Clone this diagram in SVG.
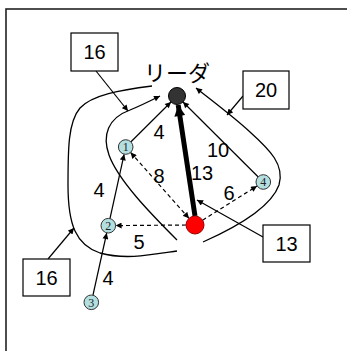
<svg xmlns="http://www.w3.org/2000/svg" width="347" height="351" viewBox="0 0 347 351">
  <defs>
    <marker id="arr" viewBox="0 0 10 10" refX="10" refY="5" markerWidth="7" markerHeight="6" markerUnits="userSpaceOnUse" orient="auto">
      <path d="M0,0 L10,5 L0,10 z" fill="#000"/>
    </marker>
    <marker id="arrStart" viewBox="0 0 10 10" refX="0" refY="5" markerWidth="7" markerHeight="6" markerUnits="userSpaceOnUse" orient="auto">
      <path d="M10,0 L0,5 L10,10 z" fill="#000"/>
    </marker>
    <marker id="arrBig" viewBox="0 0 10 10" refX="10" refY="5" markerWidth="13" markerHeight="11" markerUnits="userSpaceOnUse" orient="auto">
      <path d="M0,0 L10,5 L0,10 z" fill="#000"/>
    </marker>
  </defs>
  <style>
    .frame { fill: none; stroke: #222; stroke-width: 1.6; }
    .edge { fill: none; stroke: #000; stroke-width: 1.2; }
    .dash { fill: none; stroke: #000; stroke-width: 1.2; stroke-dasharray: 4 3; }
    .thick { fill: none; stroke: #000; stroke-width: 5; }
    .curve { fill: none; stroke: #000; stroke-width: 1.3; }
    .box rect { fill: #fff; stroke: #000; stroke-width: 1.2; }
    .lbl { font-family: "Liberation Sans", Arial, sans-serif; font-size: 20px; fill: #000; text-anchor: middle; }
    .member circle { fill: #b4dfe0; stroke: #333; stroke-width: 1; }
    .member text { font-family: "Liberation Serif", serif; font-size: 12px; fill: #222; text-anchor: middle; }
    .title { font-family: "Liberation Sans", "Noto Sans CJK JP", sans-serif; font-size: 22px; fill: #000; text-anchor: middle; }
  </style>

  <rect class="frame" x="6" y="9" width="400" height="400"/>

  <g id="connectors">
    <!-- loops around the groups -->
    <path class="curve" d="M152,86 C120,90 92,95 80,108 C68,122 68,150 68,185 C68,225 76,245 100,253 C125,260 150,255 177,251"/>
    <path class="curve" marker-end="url(#arr)" d="M177,240 C150,213 118,180 109,155 C102,135 108,118 130,110 C140,106 150,101 160,96"/>
    <path class="curve" marker-end="url(#arr)" d="M203,242 C230,230 270,210 279,185 C285,165 270,150 250,132 C235,118 215,103 196,88"/>
    <!-- solid edges -->
    <line class="edge" x1="131" y1="141.7" x2="171" y2="102" marker-end="url(#arr)"/>
    <line class="edge" x1="258" y1="176.7" x2="183" y2="102" marker-end="url(#arr)"/>
    <line class="edge" x1="93" y1="295" x2="106.7" y2="233" marker-end="url(#arr)"/>
    <line class="edge" x1="110" y1="218.5" x2="124.1" y2="154.3" marker-end="url(#arr)"/>
    <line class="thick" x1="195" y1="216" x2="178.2" y2="105" marker-end="url(#arrBig)"/>
    <!-- dashed edges -->
    <line class="dash" x1="189" y1="218.3" x2="130.6" y2="152.5" marker-start="url(#arrStart)" marker-end="url(#arr)"/>
    <line class="dash" x1="186" y1="225" x2="115.6" y2="225.6" marker-end="url(#arr)"/>
    <line class="dash" x1="202.6" y1="220.2" x2="257" y2="186" marker-end="url(#arr)"/>
    <!-- callout pointers -->
    <line class="edge" x1="96" y1="71" x2="128" y2="111" marker-end="url(#arr)"/>
    <line class="edge" x1="243" y1="96" x2="227" y2="115" marker-end="url(#arr)"/>
    <line class="edge" x1="263" y1="237" x2="197" y2="200" marker-end="url(#arr)"/>
    <line class="edge" x1="48" y1="259" x2="74" y2="228" marker-end="url(#arr)"/>
  </g>

  <!-- edge weights -->
  <g id="weights">
    <text class="lbl" x="159" y="139">4</text>
    <text class="lbl" x="218" y="157">10</text>
    <text class="lbl" x="159" y="183">8</text>
    <text class="lbl" x="202" y="180">13</text>
    <text class="lbl" x="229" y="200">6</text>
    <text class="lbl" x="99" y="197">4</text>
    <text class="lbl" x="139" y="249">5</text>
    <text class="lbl" x="108" y="285">4</text>
  </g>

  <g id="leader">
    <text class="title" x="177" y="81">リーダ</text>
    <circle cx="177" cy="96" r="8.5" fill="#333" stroke="#000" stroke-width="1"/>
  </g>
  <g id="self">
    <circle cx="195" cy="225" r="9" fill="#f00" stroke="#900" stroke-width="1"/>
  </g>
  <g id="m1" class="member"><circle cx="125.7" cy="147" r="7.3"/><text x="125.7" y="151.2">1</text></g>
  <g id="m2" class="member"><circle cx="108.3" cy="225.7" r="7.3"/><text x="108.3" y="229.9">2</text></g>
  <g id="m3" class="member"><circle cx="91.3" cy="302.3" r="7.3"/><text x="91.3" y="306.5">3</text></g>
  <g id="m4" class="member"><circle cx="263.3" cy="182" r="7.3"/><text x="263.3" y="186.2">4</text></g>

  <g id="box16a" class="box"><rect x="71" y="33" width="47" height="38"/><text class="lbl" x="94.5" y="59">16</text></g>
  <g id="box20" class="box"><rect x="243" y="71" width="46" height="38"/><text class="lbl" x="266" y="97">20</text></g>
  <g id="box13" class="box"><rect x="263" y="225" width="47" height="37"/><text class="lbl" x="286.5" y="251">13</text></g>
  <g id="box16b" class="box"><rect x="23" y="259" width="47" height="37"/><text class="lbl" x="46.5" y="285">16</text></g>
</svg>
